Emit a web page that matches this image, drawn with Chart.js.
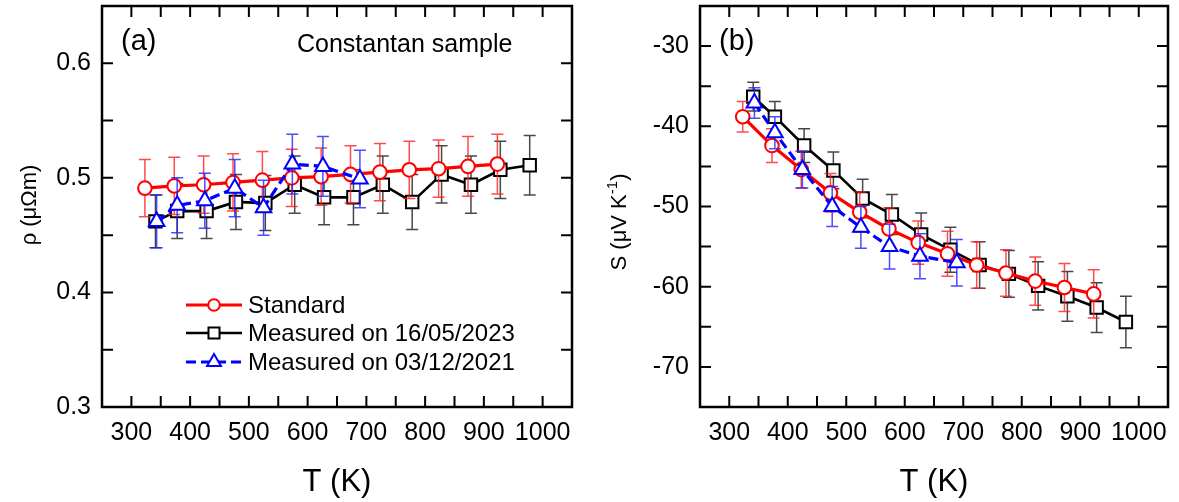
<!DOCTYPE html>
<html>
<head>
<meta charset="utf-8">
<script src="https://cdn.jsdelivr.net/npm/chart.js@4.4.1/dist/chart.umd.min.js"></script>
<style>
  html, body { margin: 0; padding: 0; background: #fff; }
  #wrap { position: relative; width: 1179px; height: 502px; }
  .panel { position: absolute; top: 0; height: 502px; }
</style>
</head>
<body>
<div id="wrap">
  <div class="panel" style="left:0;width:590px"><canvas id="chartA" width="590" height="502"></canvas></div>
  <div class="panel" style="left:590px;width:589px"><canvas id="chartB" width="589" height="502"></canvas></div>
</div>
<script>
// temperatures (K)
const tStandard = [323, 373, 423, 473, 523, 573, 623, 673, 723, 773, 823, 873, 923];
const tMeas2023 = [341, 378, 428, 478, 528, 578, 628, 678, 728, 778, 828, 878, 928, 978];
const tMeas2021 = [343, 378, 425, 476, 525, 574, 626, 689];

// (a) resistivity (µΩm) and error bars
const rhoStandard = [0.491, 0.493, 0.494, 0.496, 0.498, 0.500, 0.501, 0.503, 0.505, 0.507, 0.508, 0.510, 0.512];
const rhoStandardErr = [0.025, 0.025, 0.025, 0.025, 0.025, 0.025, 0.025, 0.025, 0.025, 0.025, 0.025, 0.026, 0.026];
const rhoMeas2023 = [0.462, 0.471, 0.471, 0.479, 0.478, 0.494, 0.483, 0.483, 0.494, 0.479, 0.503, 0.494, 0.507, 0.511];
const rhoMeas2023Err = [0.023, 0.024, 0.024, 0.024, 0.024, 0.025, 0.024, 0.024, 0.025, 0.024, 0.025, 0.025, 0.025, 0.026];
const rhoMeas2021 = [0.462, 0.476, 0.480, 0.491, 0.474, 0.512, 0.510, 0.499];
const rhoMeas2021Err = [0.023, 0.024, 0.024, 0.025, 0.024, 0.026, 0.026, 0.025];

// (b) Seebeck coefficient (µV/K) and error bars
const sStandard = [-38.8, -42.4, -45.4, -48.3, -50.7, -52.8, -54.5, -55.9, -57.3, -58.3, -59.3, -60.1, -60.9];
const sStandardErr = [1.9, 2.1, 2.3, 2.4, 2.5, 2.6, 2.7, 2.8, 2.9, 2.9, 3.0, 3.0, 3.0];
const sMeas2023 = [-36.3, -38.8, -42.4, -45.5, -49.0, -51.0, -53.5, -55.4, -57.3, -58.4, -59.9, -61.2, -62.6, -64.4];
const sMeas2023Err = [1.8, 1.9, 2.1, 2.3, 2.4, 2.5, 2.7, 2.8, 2.9, 2.9, 3.0, 3.1, 3.1, 3.2];
const sMeas2021 = [-37.1, -40.8, -45.4, -50.0, -52.6, -55.0, -56.2, -57.0];
const sMeas2021Err = [1.9, 2.0, 2.3, 2.5, 2.6, 2.8, 2.8, 2.9];

// ticks
const tTicks = [300, 400, 500, 600, 700, 800, 900, 1000];
const tMinor = [350, 450, 550, 650, 750, 850, 950];
const rhoTicks = [0.3, 0.4, 0.5, 0.6];
const rhoMinor = [0.35, 0.45, 0.55];
const sTicks = [-70, -60, -50, -40, -30];
const sMinor = [-65, -55, -45, -35];

const seriesNames = ['Standard', 'Measured on 16/05/2023', 'Measured on 03/12/2021'];

const FONT = "'Liberation Sans', Arial, sans-serif";

function pts(xs, ys) {
  return xs.map((x, i) => ({ x: x, y: ys[i] }));
}

// styles per series: standard, 2023, 2021
const styles = [
  { color: 'rgb(255,0,0)', err: 'rgba(255,30,30,0.8)', width: 3.2, dash: [], pointStyle: 'circle', radius: 6.8, order: 1 },
  { color: 'rgb(0,0,0)', err: 'rgba(40,40,40,0.85)', width: 2.6, dash: [], pointStyle: 'rect', radius: 8.8, order: 2 },
  { color: 'rgb(0,0,255)', err: 'rgba(30,30,255,0.8)', width: 3.2, dash: [10, 5], pointStyle: 'triangle', radius: 9, order: 0 }
];

function makeDataset(i, data, errors) {
  const s = styles[i];
  return {
    label: seriesNames[i],
    data: data,
    errors: errors,
    errorColor: s.err,
    borderColor: s.color,
    borderWidth: s.width,
    borderDash: s.dash,
    pointStyle: s.pointStyle,
    pointRadius: s.radius,
    pointBorderWidth: 2,
    pointBorderColor: s.color,
    pointBackgroundColor: '#fff',
    backgroundColor: '#fff',
    tension: 0,
    order: s.order
  };
}

// error bars drawn right before each dataset
const errorBars = {
  id: 'errorBars',
  beforeDatasetDraw(chart, args) {
    const ds = chart.data.datasets[args.index];
    if (!ds.errors) return;
    const ctx = chart.ctx, xs = chart.scales.x, ys = chart.scales.y;
    ctx.save();
    ctx.strokeStyle = ds.errorColor;
    ctx.lineWidth = 1.5;
    ds.data.forEach((p, i) => {
      const x = xs.getPixelForValue(p.x);
      const y1 = ys.getPixelForValue(p.y + ds.errors[i]);
      const y2 = ys.getPixelForValue(p.y - ds.errors[i]);
      ctx.beginPath();
      ctx.moveTo(x, y1); ctx.lineTo(x, y2);
      ctx.moveTo(x - 6, y1); ctx.lineTo(x + 6, y1);
      ctx.moveTo(x - 6, y2); ctx.lineTo(x + 6, y2);
      ctx.stroke();
    });
    ctx.restore();
  }
};

// frame, inward ticks, panel texts and legend
const decor = {
  id: 'decor',
  afterDraw(chart, args, opts) {
    const ctx = chart.ctx, a = chart.chartArea;
    const xs = chart.scales.x, ys = chart.scales.y;
    const len = 11;
    ctx.save();
    ctx.strokeStyle = '#000';
    ctx.lineWidth = 2;
    ctx.beginPath();
    opts.xMarks.forEach(v => {
      const x = xs.getPixelForValue(v);
      ctx.moveTo(x, a.bottom); ctx.lineTo(x, a.bottom - len);
      ctx.moveTo(x, a.top); ctx.lineTo(x, a.top + len);
    });
    opts.yMarks.forEach(v => {
      const y = ys.getPixelForValue(v);
      ctx.moveTo(a.left, y); ctx.lineTo(a.left + len, y);
      ctx.moveTo(a.right, y); ctx.lineTo(a.right - len, y);
    });
    ctx.stroke();
    ctx.lineWidth = 2.5;
    ctx.strokeRect(a.left, a.top, a.right - a.left, a.bottom - a.top);

    ctx.fillStyle = '#000';
    ctx.textBaseline = 'middle';
    // panel tag
    ctx.font = '29px ' + FONT;
    ctx.textAlign = 'left';
    ctx.fillText(opts.tag, a.left + 19, 42);
    if (opts.note) {
      ctx.font = '25px ' + FONT;
      ctx.fillText(opts.note, 297, 45);
    }
    // x title
    ctx.font = '31px ' + FONT;
    ctx.textAlign = 'center';
    ctx.fillText('T (K)', (a.left + a.right) / 2, 482);
    // y title
    ctx.save();
    ctx.translate(30, opts.yTitleY);
    ctx.rotate(-Math.PI / 2);
    const mainFont = '22px ' + FONT;
    const supFont = '15px ' + FONT;
    let w = 0;
    opts.yTitle.forEach(p => { ctx.font = p.sup ? supFont : mainFont; w += ctx.measureText(p.t).width; });
    let x0 = -w / 2;
    ctx.textAlign = 'left';
    opts.yTitle.forEach(p => {
      ctx.font = p.sup ? supFont : mainFont;
      ctx.fillText(p.t, x0, p.sup ? -7 : 0);
      x0 += ctx.measureText(p.t).width;
    });
    ctx.restore();

    // legend
    if (opts.legend) {
      const rows = [305, 333, 362];
      const list = chart.data.datasets.slice().sort((p, q) => seriesNames.indexOf(p.label) - seriesNames.indexOf(q.label));
      list.forEach((ds, i) => {
        const y = rows[i];
        ctx.save();
        ctx.strokeStyle = ds.borderColor;
        ctx.lineWidth = ds.borderWidth;
        ctx.setLineDash(ds.borderDash);
        ctx.beginPath();
        ctx.moveTo(186, y); ctx.lineTo(242, y);
        ctx.stroke();
        ctx.setLineDash([]);
        ctx.fillStyle = '#fff';
        ctx.lineWidth = 2;
        Chart.helpers.drawPoint(ctx, { pointStyle: ds.pointStyle, radius: ds.pointRadius - 1, borderWidth: 2, rotation: 0 }, 214, y);
        ctx.restore();
        ctx.font = '24px ' + FONT;
        ctx.textAlign = 'left';
        ctx.fillStyle = '#000';
        ctx.fillText(ds.label, 248, y + 1);
      });
    }
    ctx.restore();
  }
};

function noPad(s) {
  s.paddingTop = 0; s.paddingBottom = 0; s.paddingLeft = 0; s.paddingRight = 0;
}

function makeChart(id, datasets, yMin, yMax, yTicks, yWidth, padRight, decorOpts) {
  return new Chart(document.getElementById(id), {
    type: 'line',
    data: { datasets: datasets },
    options: {
      responsive: false,
      animation: false,
      events: [],
      layout: { padding: { top: 6, right: padRight, left: 0, bottom: 0 }, autoPadding: false },
      plugins: {
        legend: { display: false },
        tooltip: { enabled: false },
        decor: decorOpts
      },
      scales: {
        x: {
          type: 'linear',
          min: 250,
          max: 1050,
          grid: { display: false, drawTicks: false },
          border: { display: false },
          ticks: { font: { family: FONT, size: 25 }, color: '#000', padding: 11, maxRotation: 0, autoSkip: false, callback: v => String(v) },
          afterBuildTicks: s => { s.ticks = tTicks.map(v => ({ value: v })); },
          afterFit: s => { s.height = 95; noPad(s); }
        },
        y: {
          type: 'linear',
          min: yMin,
          max: yMax,
          grid: { display: false, drawTicks: false },
          border: { display: false },
          ticks: { font: { family: FONT, size: 25 }, color: '#000', padding: 11, callback: v => String(v) },
          afterBuildTicks: s => { s.ticks = yTicks.map(v => ({ value: v })); },
          afterFit: s => { s.width = yWidth; noPad(s); }
        }
      }
    },
    plugins: [errorBars, decor]
  });
}

makeChart('chartA', [
  makeDataset(0, pts(tStandard, rhoStandard), rhoStandardErr),
  makeDataset(1, pts(tMeas2023, rhoMeas2023), rhoMeas2023Err),
  makeDataset(2, pts(tMeas2021, rhoMeas2021), rhoMeas2021Err)
], 0.3, 0.65, rhoTicks, 102, 18, {
  tag: '(a)',
  note: 'Constantan sample',
  legend: true,
  xMarks: tTicks.concat(tMinor),
  yMarks: rhoTicks.concat(rhoMinor),
  yTitleY: 205,
  yTitle: [{ t: 'ρ (μΩm)' }]
});

makeChart('chartB', [
  makeDataset(0, pts(tStandard, sStandard), sStandardErr),
  makeDataset(1, pts(tMeas2023, sMeas2023), sMeas2023Err),
  makeDataset(2, pts(tMeas2021, sMeas2021), sMeas2021Err)
], -75, -25, sTicks, 110, 11, {
  tag: '(b)',
  legend: false,
  xMarks: tTicks.concat(tMinor),
  yMarks: sTicks.concat(sMinor),
  yTitleY: 222,
  yTitle: [{ t: 'S (μV K' }, { t: '-1', sup: true }, { t: ')' }]
});
</script>
</body>
</html>
